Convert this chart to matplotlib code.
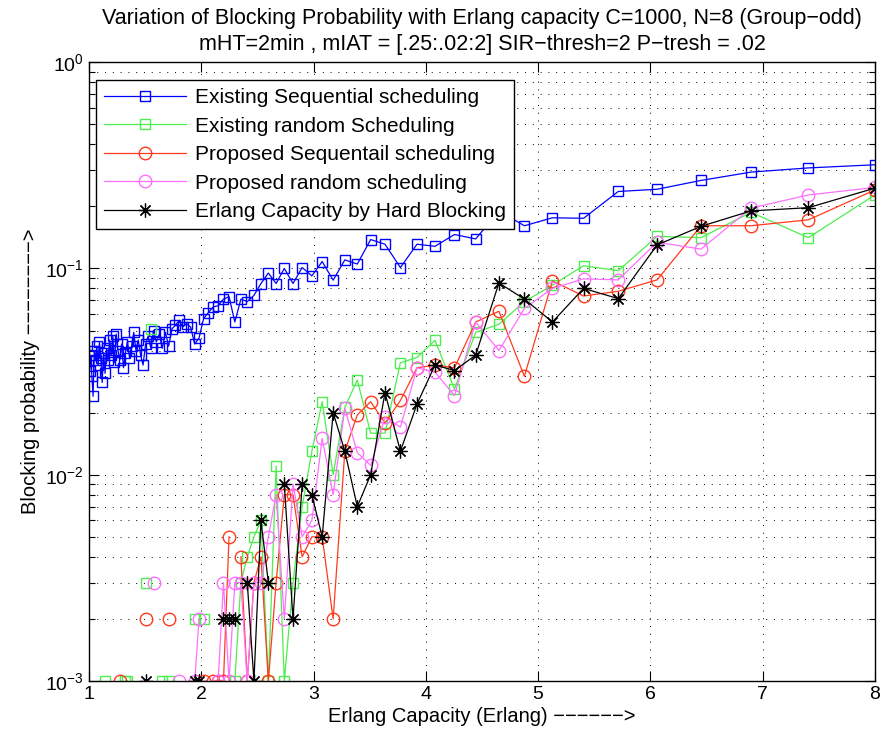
import numpy as np
import matplotlib
matplotlib.use('Agg')
import matplotlib.pyplot as plt

plt.rcParams['font.family'] = ['Liberation Sans', 'DejaVu Sans']

# mIAT = [.25:.02:2], offered traffic (Erlang) = mHT / mIAT with mHT = 2 min
m_iat = np.linspace(1.99, 0.25, 88)
erlang = 2.0 / m_iat

# blocking probability, ordered by increasing Erlang capacity (0 = no blocking, not drawn on log axis)
exist_seq = [0.032, 0.038, 0.030, 0.024, 0.040, 0.036, 0.042, 0.034, 0.044, 0.037,
             0.028, 0.039, 0.031, 0.041, 0.036, 0.045, 0.038, 0.047, 0.035, 0.048,
             0.040, 0.036, 0.043, 0.033, 0.039, 0.044, 0.037, 0.042, 0.049, 0.040,
             0.045, 0.038, 0.034, 0.043, 0.047, 0.041, 0.050, 0.044, 0.048, 0.041,
             0.049, 0.042, 0.051, 0.053, 0.056, 0.052, 0.054, 0.052, 0.043, 0.046,
             0.057, 0.061, 0.065, 0.066, 0.071, 0.073, 0.055, 0.071, 0.069, 0.074,
             0.0845, 0.095, 0.0845, 0.100, 0.0845, 0.101, 0.092, 0.108, 0.0877, 0.110,
             0.105, 0.138, 0.131, 0.101, 0.131, 0.128, 0.146, 0.139, 0.190, 0.161,
             0.176, 0.175, 0.236, 0.242, 0.267, 0.293, 0.307, 0.318]

exist_rand = [0, 0, 0, 0, 0, 0, 0, 0, 0, 0,
              0, 0, 0.001, 0, 0, 0, 0, 0, 0, 0,
              0, 0, 0, 0, 0.001, 0.001, 0, 0, 0, 0,
              0, 0, 0, 0.003, 0, 0.051, 0, 0, 0, 0.001,
              0, 0.001, 0, 0, 0, 0, 0, 0, 0.002, 0,
              0.002, 0, 0, 0, 0, 0, 0.001, 0.003, 0.004, 0.005,
              0.006, 0.001, 0.011, 0.001, 0.003, 0.007, 0.013, 0.0226, 0.010, 0.0212,
              0.0288, 0.0159, 0.0159, 0.0349, 0.037, 0.0448, 0.026, 0.049, 0.0536, 0.069,
              0.083, 0.103, 0.0975, 0.143, 0.141, 0.187, 0.141, 0.227]

prop_seq = [0, 0, 0, 0, 0, 0, 0, 0, 0, 0,
            0, 0, 0, 0, 0, 0, 0, 0, 0, 0,
            0, 0.001, 0, 0, 0, 0, 0, 0, 0, 0,
            0, 0, 0, 0.002, 0, 0, 0, 0, 0, 0,
            0, 0.002, 0, 0, 0, 0, 0, 0, 0, 0,
            0.001, 0, 0.001, 0.001, 0.001, 0.005, 0, 0.004, 0.001, 0.003,
            0.004, 0.001, 0.003, 0.008, 0.008, 0.004, 0.005, 0.005, 0.002, 0.013,
            0.0195, 0.0226, 0.0178, 0.0229, 0.033, 0.034, 0.033, 0.055, 0.062, 0.030,
            0.087, 0.0735, 0.0775, 0.088, 0.161, 0.161, 0.172, 0.240]

prop_rand = [0, 0, 0, 0, 0, 0, 0, 0, 0, 0,
             0, 0, 0, 0, 0, 0, 0, 0, 0, 0,
             0, 0, 0, 0, 0, 0, 0, 0, 0, 0,
             0, 0, 0, 0, 0, 0, 0.003, 0, 0, 0,
             0, 0, 0, 0, 0.001, 0, 0, 0, 0.001, 0.002,
             0, 0, 0, 0.001, 0.003, 0.001, 0.003, 0.003, 0.001, 0.003,
             0.003, 0.005, 0.008, 0.002, 0.009, 0.005, 0.006, 0.015, 0.008, 0.021,
             0.0128, 0.0111, 0.019, 0.017, 0.033, 0.0314, 0.0242, 0.055, 0.040, 0.064,
             0.080, 0.089, 0.088, 0.134, 0.124, 0.196, 0.227, 0.247]

hard_block = [0, 0, 0, 0, 0, 0, 0, 0, 0, 0,
              0, 0, 0, 0, 0, 0, 0, 0, 0, 0,
              0, 0, 0, 0, 0, 0, 0, 0, 0, 0,
              0, 0, 0, 0.001, 0, 0, 0, 0, 0, 0,
              0, 0, 0, 0, 0, 0, 0, 0, 0.001, 0.001,
              0, 0, 0, 0, 0.002, 0.002, 0.002, 0, 0.003, 0.001,
              0.006, 0.003, 0, 0.009, 0.002, 0.009, 0.008, 0.005, 0.020, 0.013,
              0.007, 0.010, 0.025, 0.013, 0.022, 0.034, 0.032, 0.038, 0.085, 0.071,
              0.055, 0.080, 0.0714, 0.130, 0.160, 0.190, 0.197, 0.245]

labels = ['Existing Sequential scheduling', 'Existing random Scheduling',
          'Proposed Sequentail scheduling', 'Proposed random scheduling',
          'Erlang Capacity by Hard Blocking']


def masked(vals):
    '''zeros cannot be drawn on a log axis, MATLAB just leaves them out'''
    a = np.array(vals, dtype=float)
    return np.where(a > 0, a, np.nan)


fig = plt.figure(figsize=(8.83, 7.43), dpi=100)
ax = fig.add_axes([0.1008, 0.0834, 0.890, 0.833])

star = (8, 2, 0)
ax.plot(erlang, masked(exist_seq), '-', color='#0000ff', marker='s', mfc='none', ms=7, lw=0.9, label=labels[0])
ax.plot(erlang, masked(exist_rand), '-', color='#4dee4d', marker='s', mfc='none', ms=7, lw=0.9, label=labels[1])
ax.plot(erlang, masked(prop_seq), '-', color='#ff3a1c', marker='o', mfc='none', ms=9, lw=0.9, label=labels[2])
ax.plot(erlang, masked(prop_rand), '-', color='#ff70ff', marker='o', mfc='none', ms=9, lw=0.9, label=labels[3])
ax.plot(erlang, masked(hard_block), '-', color='black', marker=star, ms=10, mew=0.9, lw=0.9, label=labels[4])

ax.set_yscale('log')
ax.set_xlim(1, 8)
ax.set_ylim(1e-3, 1)
ax.set_xticks(range(1, 9))

ax.grid(True, which='major', axis='x', color='black', linestyle=(0, (1, 7)), lw=0.7)
ax.grid(True, which='both', axis='y', color='black', linestyle=(0, (1, 7)), lw=0.7)
ax.tick_params(which='both', direction='in', top=True, right=True, labelsize=14)
ax.tick_params(which='major', length=7, width=0.8)
ax.tick_params(which='minor', length=4, width=0.8)
for s in ax.spines.values():
    s.set_linewidth(1.0)

ax.set_title('Variation of Blocking Probability with Erlang capacity C=1000, N=8 (Group\u2212odd)\n'
             'mHT=2min , mIAT = [.25:.02:2] SIR\u2212thresh=2 P\u2212tresh = .02',
             fontsize=15.5, pad=9, linespacing=1.3)
ax.set_xlabel('Erlang Capacity (Erlang) \u2212\u2212\u2212\u2212\u2212\u2212>', fontsize=14.5, labelpad=3)
ax.set_ylabel('Blocking probability \u2212\u2212\u2212\u2212\u2212\u2212\u2212\u2212>', fontsize=14.5, labelpad=4)

leg = ax.legend(loc='upper left', bbox_to_anchor=(0.009, 0.971), borderaxespad=0,
                fontsize=15, fancybox=False, framealpha=1, edgecolor='black',
                handlelength=3.9, handletextpad=0.45, labelspacing=0.45, borderpad=0.4)
leg.get_frame().set_linewidth(1.0)

fig.savefig('out.png', dpi=100)
